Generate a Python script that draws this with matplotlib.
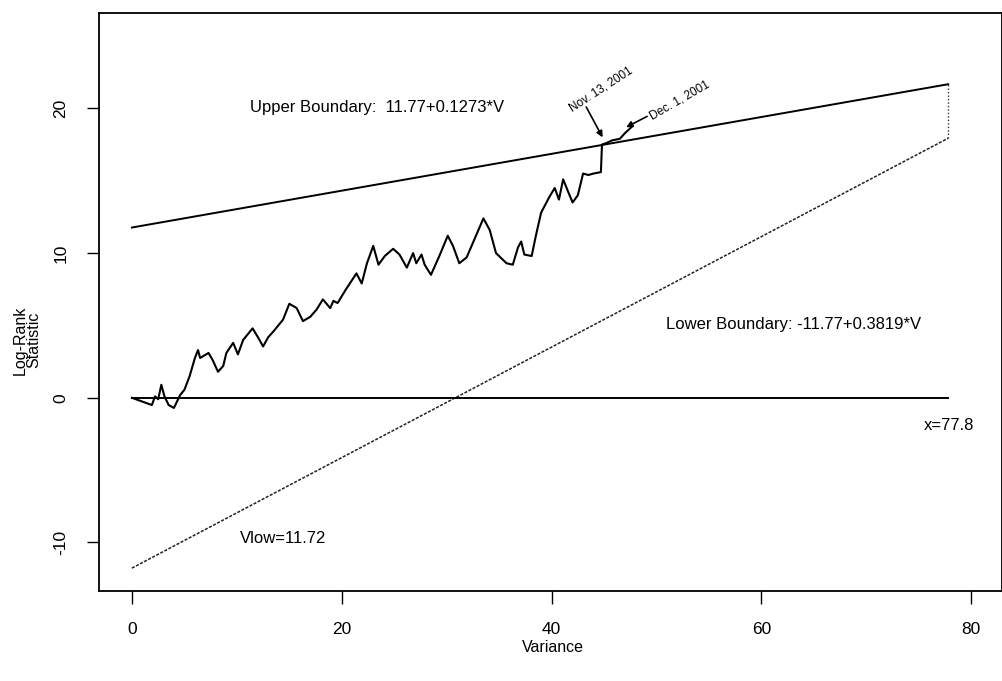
import matplotlib
matplotlib.use("Agg")
import matplotlib.pyplot as plt
import numpy as np

plt.rcParams['font.family'] = ['Liberation Sans', 'DejaVu Sans']
plt.rcParams['axes.unicode_minus'] = False

variance = [0.0, 1.9, 2.2, 2.5, 2.8, 3.1, 3.5, 4.0, 4.6, 5.0, 5.5, 6.0, 6.3, 6.5,
            7.3, 7.7, 8.2, 8.7, 9.0, 9.65, 10.1, 10.6, 11.5, 12.0, 12.5, 13.0,
            13.5, 14.4, 15.0, 15.7, 16.3, 17.0, 17.6, 18.2, 18.9, 19.2, 19.6,
            20.4, 21.4, 21.9, 22.4, 23.0, 23.5, 24.1, 24.9, 25.5, 26.2, 26.8,
            27.1, 27.6, 27.9, 28.5, 29.3, 30.1, 30.6, 31.2, 31.9, 32.7, 33.5,
            34.1, 34.7, 35.7, 36.3, 36.8, 37.1, 37.4, 38.1, 38.5, 39.0, 39.8,
            40.3, 40.7, 41.1, 41.6, 42.0, 42.5, 43.0, 43.5, 44.0, 44.7, 44.8,
            45.2, 45.8, 46.5, 47.0, 47.6]
statistic = [0.0, -0.5, 0.1, -0.1, 0.9, 0.1, -0.5, -0.7, 0.2, 0.55, 1.5, 2.75,
             3.3, 2.75, 3.1, 2.6, 1.8, 2.2, 3.1, 3.8, 3.0, 4.0, 4.8, 4.2, 3.55,
             4.2, 4.6, 5.4, 6.5, 6.2, 5.3, 5.6, 6.1, 6.8, 6.2, 6.7, 6.55, 7.5,
             8.6, 7.9, 9.3, 10.5, 9.2, 9.8, 10.3, 9.9, 9.0, 10.0, 9.3, 9.9, 9.2,
             8.5, 9.8, 11.2, 10.5, 9.3, 9.7, 11.05, 12.4, 11.6, 10.0, 9.3, 9.2,
             10.4, 10.8, 9.9, 9.8, 11.2, 12.8, 13.9, 14.5, 13.7, 15.1, 14.2,
             13.5, 14.0, 15.5, 15.4, 15.5, 15.6, 17.5, 17.6, 17.8, 17.9, 18.3,
             18.7]

v_max = 77.8
intercept = 11.77
upper_slope = 0.1273
lower_slope = 0.3819

fig = plt.figure(figsize=(10.03, 6.81), dpi=100)
ax = fig.add_axes([0.0987, 0.132, 0.9, 0.849])

vv = np.array([0, v_max])
upper = intercept + upper_slope * vv
lower = -intercept + lower_slope * vv

ax.plot(vv, upper, color='black', lw=1.4)
ax.plot(vv, lower, color='#222222', lw=1.1, ls=(0, (2, 1)))
ax.plot([v_max, v_max], [lower[1], upper[1]], color='#333333', lw=1.0, ls=(0, (1, 1.5)))
ax.plot(vv, [0, 0], color='black', lw=1.4)
ax.plot(variance, statistic, color='black', lw=1.5)

ax.text(11.24, 20.07, 'Upper Boundary:  11.77+0.1273*V', fontsize=12, va='center')
ax.text(50.95, 5.05, 'Lower Boundary: -11.77+0.3819*V', fontsize=12, va='center')
ax.text(75.5, -1.94, 'x=77.8', fontsize=12, va='center')
ax.text(10.3, -9.75, 'Vlow=11.72', fontsize=12, va='center')

# date labels with arrows
ax.text(44.67, 21.3, 'Nov. 13, 2001', fontsize=8.5, rotation=33,
        ha='center', va='center')
ax.annotate('', xy=(44.86, 18.0), xytext=(43.3, 20.1),
            arrowprops=dict(arrowstyle='-|>', color='black', lw=1.2,
                            mutation_scale=9, shrinkA=0, shrinkB=0))
ax.text(52.2, 20.55, 'Dec. 1, 2001', fontsize=8.5, rotation=30,
        ha='center', va='center')
ax.annotate('', xy=(47.1, 18.7), xytext=(49.1, 19.45),
            arrowprops=dict(arrowstyle='-|>', color='black', lw=1.2,
                            mutation_scale=9, shrinkA=0, shrinkB=0))

ax.set_xlim(-3.14, 82.9)
ax.set_ylim(-13.36, 26.6)
ax.set_xticks([0, 20, 40, 60, 80])
ax.set_yticks([-10, 0, 10, 20])
ax.tick_params(axis='both', direction='out', length=9, width=1, labelsize=12.5, pad=13)
for lab in ax.get_yticklabels():
    lab.set_rotation(90)
    lab.set_va('center')
for sp in ax.spines.values():
    sp.set_linewidth(1.3)

fig.text(553 / 1003, 1 - 648 / 681, 'Variance', fontsize=11.5, ha='center', va='center')
fig.text(27 / 1003, 1 - 340 / 681, 'Log-Rank\nStatistic', fontsize=11.5, rotation=90,
         ha='center', va='center', linespacing=0.9)

fig.savefig('out.png', dpi=100)
